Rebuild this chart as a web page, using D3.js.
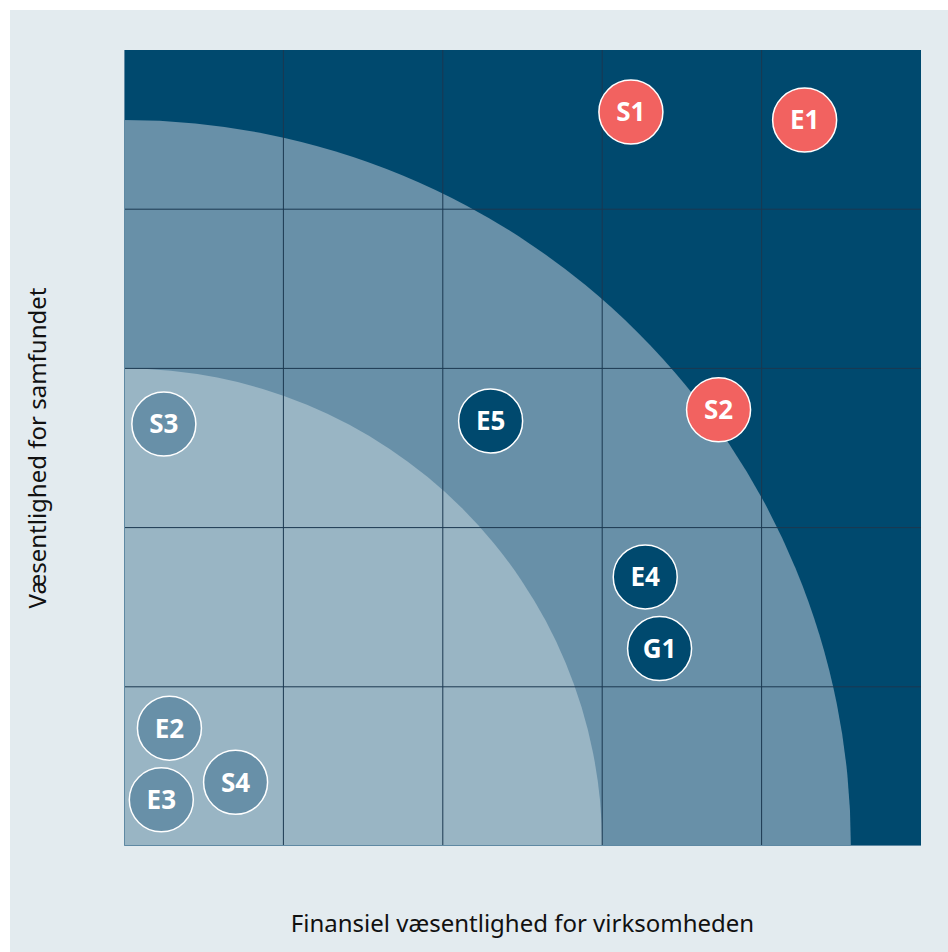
<!DOCTYPE html>
<html>
<head>
<meta charset="utf-8">
<script src="https://cdn.jsdelivr.net/npm/d3@7"></script>
<style>
  body { margin: 0; background: #ffffff; }
  svg { display: block; }
</style>
</head>
<body>
<svg id="chart" width="948" height="952"></svg>
<script>
// topics (label, financial materiality, societal materiality, group)
const labels = ["S1", "E1", "S2", "E5", "S3", "E4", "G1", "E2", "E3", "S4"];
const xValues = [3.18, 4.27, 3.73, 2.30, 0.25, 3.27, 3.36, 0.285, 0.234, 0.70];
const yValues = [4.61, 4.56, 2.74, 2.67, 2.65, 1.69, 1.24, 0.74, 0.29, 0.40];
const levels = ["high", "high", "high", "mid", "low", "mid", "mid", "low", "low", "low"];

// zones drawn as quarter circles from the origin
const zoneRadii = [4.56, 3];
const gridTicks = [1, 2, 3, 4];

const colors = {
    panel: "#e3ebef",
    dark: "#00496e",
    mid: "#6890a8",
    light: "#99b5c4",
    red: "#f26260",
    grid: "#1b3850"
};
const dotFill = { high: colors.red, mid: colors.dark, low: colors.mid };

const svg = d3.select("#chart");

svg.append("rect")
    .attr("x", 10)
    .attr("y", 10)
    .attr("width", 938)
    .attr("height", 942)
    .style("fill", colors.panel);

const plot = { left: 124, top: 50, right: 921, bottom: 846 };

const x = d3.scaleLinear().domain([0, 5]).range([plot.left, plot.right]);
const y = d3.scaleLinear().domain([0, 5]).range([plot.bottom, plot.top]);

svg.append("defs").append("clipPath")
    .attr("id", "plot-clip")
    .append("rect")
    .attr("x", plot.left)
    .attr("y", plot.top)
    .attr("width", plot.right - plot.left)
    .attr("height", plot.bottom - plot.top);

let g = svg.append("g").attr("clip-path", "url(#plot-clip)");

g.append("rect")
    .attr("x", plot.left)
    .attr("y", plot.top)
    .attr("width", plot.right - plot.left)
    .attr("height", plot.bottom - plot.top)
    .style("fill", colors.dark);

let zoneColors = [colors.mid, colors.light];
for (let i in zoneRadii) {
    let rx = x(zoneRadii[i]) - x(0);
    let ry = y(0) - y(zoneRadii[i]);
    g.append("path")
        .attr("d", `M${x(0)},${y(0)} L${x(0)},${y(0) - ry} A${rx},${ry} 0 0 1 ${x(0) + rx},${y(0)} Z`)
        .style("fill", zoneColors[i]);
}

// grid
g.selectAll(".vline")
    .data(gridTicks)
    .join("line")
    .attr("x1", d => x(d))
    .attr("x2", d => x(d))
    .attr("y1", plot.top)
    .attr("y2", plot.bottom)
    .style("stroke", colors.grid)
    .style("stroke-width", 1);

g.selectAll(".hline")
    .data(gridTicks)
    .join("line")
    .attr("y1", d => y(d))
    .attr("y2", d => y(d))
    .attr("x1", plot.left)
    .attr("x2", plot.right)
    .style("stroke", colors.grid)
    .style("stroke-width", 1);

// thin edge on the left and bottom
svg.append("path")
    .attr("d", `M${plot.left + 0.5},${plot.top} L${plot.left + 0.5},${plot.bottom - 0.5} L${plot.right},${plot.bottom - 0.5}`)
    .style("fill", "none")
    .style("stroke", "#5f89a3")
    .style("stroke-width", 1);

// dots
let dots = svg.selectAll(".dot")
    .data(labels)
    .join("g")
    .attr("transform", (d, i) => `translate(${x(xValues[i])}, ${y(yValues[i])})`);

dots.append("circle")
    .attr("r", 32)
    .style("fill", (d, i) => dotFill[levels[i]])
    .style("stroke", "white")
    .style("stroke-width", 1.5);

dots.append("text")
    .text(d => d)
    .attr("text-anchor", "middle")
    .attr("dy", "0.36em")
    .style("fill", "white")
    .style("font-family", "'Noto Sans', sans-serif")
    .style("font-weight", "bold")
    .style("font-size", "26px");

// axis titles
svg.append("text")
    .text("Finansiel væsentlighed for virksomheden")
    .attr("x", (plot.left + plot.right) / 2)
    .attr("y", 932)
    .attr("text-anchor", "middle")
    .style("fill", "#111")
    .style("font-family", "'Noto Sans', sans-serif")
    .style("font-size", "24px");

svg.append("text")
    .text("Væsentlighed for samfundet")
    .attr("transform", `translate(46, ${(plot.top + plot.bottom) / 2}) rotate(-90)`)
    .attr("text-anchor", "middle")
    .style("fill", "#111")
    .style("font-family", "'Noto Sans', sans-serif")
    .style("font-size", "24px");
</script>
</body>
</html>
